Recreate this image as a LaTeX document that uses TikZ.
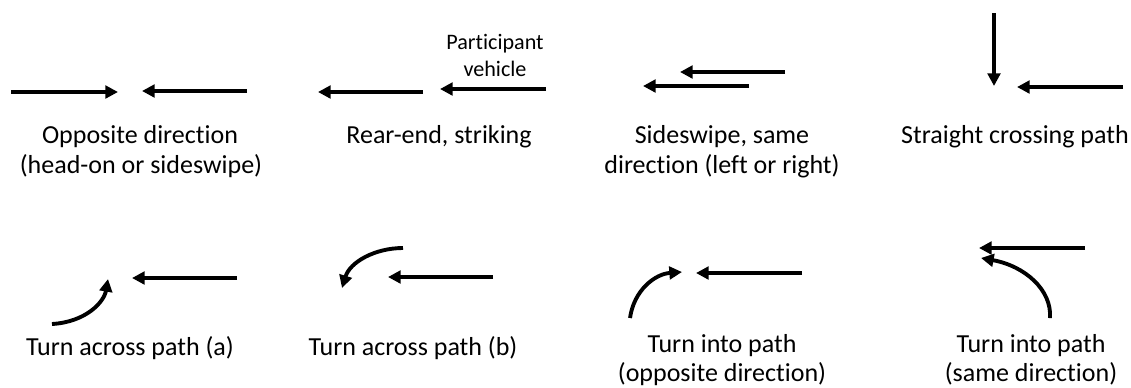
\documentclass[tikz,border=0pt]{standalone}
\usepackage{fontspec}
\setmainfont{Carlito}[Ligatures={NoCommon,NoContextual},RawFeature={-liga;-clig;-calt}]
\usetikzlibrary{arrows.meta}
\begin{document}
\begin{tikzpicture}[x=0.75pt,y=-0.75pt,
  veh/.style={line width=2.9pt,-{Triangle[length=9.5pt,width=9.5pt]}},
  caption/.style={anchor=base,inner sep=0pt,font=\fontsize{19.5}{23}\selectfont},
  small/.style={anchor=base,inner sep=0pt,font=\fontsize{16.6}{20}\selectfont}]
\useasboundingbox (0,0) rectangle (1131,387);

% --- top row ---
% opposite direction
\draw[veh] (11,92) -- (118,92);
\draw[veh] (247,91) -- (142,91);
\node[caption] (t1a) at (140,143) {Opposite direction};
\node[caption] (t1b) at (141,173) {(head-on or sideswipe)};

% rear-end, striking
\draw[veh] (423,92) -- (318,92);
\draw[veh] (546,89) -- (440,89);
\node[small] (pv1) at (495,49) {Participant};
\node[small] (pv2) at (495,76) {vehicle};
\node[caption] (t2) at (439,143) {Rear-end, striking};

% sideswipe, same direction
\draw[veh] (785,72) -- (680,72);
\draw[veh] (749,86) -- (643,86);
\node[caption] (t3a) at (722,143) {Sideswipe, same};
\node[caption] (t3b) at (722,173) {direction (left or right)};

% straight crossing path
\draw[veh] (994,13) -- (994,86);
\draw[veh] (1123,87) -- (1017,87);
\node[caption] (t4) at (1015,143) {Straight crossing path};

% --- bottom row ---
% turn across path (a)
\draw[veh] (52,324) .. controls (86,322) and (104,302) .. (108,279);
\draw[veh] (237,278) -- (132,278);
\node[caption] (b1) at (130,355) {Turn across path (a)};

% turn across path (b)
\draw[veh] (403,248) .. controls (375,248) and (350,262) .. (342,288);
\draw[veh] (493,277) -- (388,277);
\node[caption] (b2) at (413,355) {Turn across path (b)};

% turn into path (opposite direction)
\draw[veh] (630,318) .. controls (634,290) and (655,274) .. (682,272);
\draw[veh] (802,273) -- (696,273);
\node[caption] (b3a) at (722,352) {Turn into path};
\node[caption] (b3b) at (722,381) {(opposite direction)};

% turn into path (same direction)
\draw[veh] (1085,248) -- (979,248);
\draw[veh] (1050,318) .. controls (1052,290) and (1025,266) .. (981,258);
\node[caption] (b4a) at (1031,352) {Turn into path};
\node[caption] (b4b) at (1031,381) {(same direction)};
\end{tikzpicture}
\end{document}
